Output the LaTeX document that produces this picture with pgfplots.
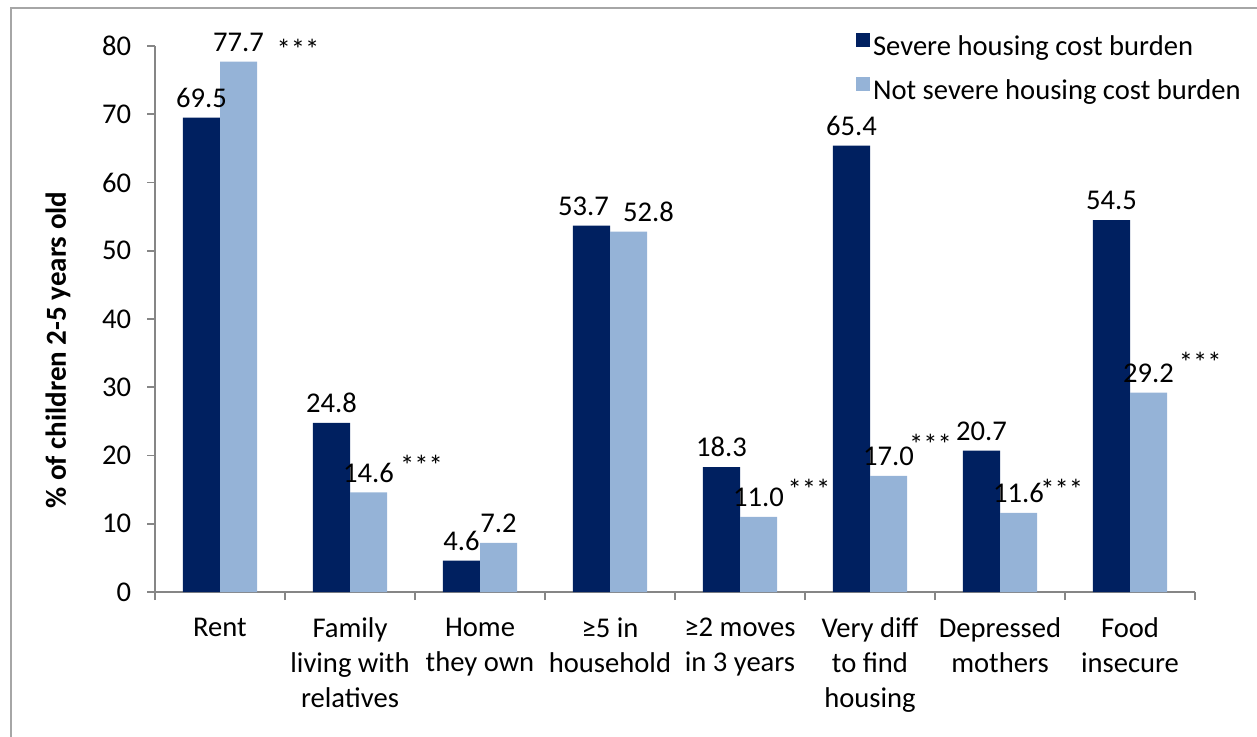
\documentclass[border=0pt]{standalone}
\usepackage{fontspec}
\setmainfont{Carlito}
\usepackage{pgfplots}
\pgfplotsset{compat=1.18}
\definecolor{darkb}{HTML}{002060}
\definecolor{lightb}{HTML}{95B3D7}
\definecolor{axgray}{HTML}{868686}
\newcommand{\cf}{\fontsize{14.3}{17.5}\selectfont}
\begin{document}
\cf
\begin{tikzpicture}
\path[use as bounding box] (0,0) rectangle (628.5pt,368pt);
\draw[color=gray!70, line width=1pt] (5.5pt,-2pt) -- (5.5pt,364pt) -- (632pt,364pt);
\begin{axis}[
  at={(77.5pt,72pt)}, anchor=south west,
  scale only axis, width=520pt, height=273pt,
  xmin=-0.5, xmax=7.5, ymin=0, ymax=80,
  ybar=0pt, bar width=0.285,
  clip=false,
  axis x line*=bottom, axis y line*=left,
  axis line style={axgray, line width=0.8pt},
  tick align=outside,
  major tick length=4pt, minor tick length=4pt,
  ytick={0,10,...,80},
  ytick style={axgray, line width=0.8pt},
  xtick={0,...,7},
  major x tick style={draw=none},
  minor xtick={-0.5,0.5,...,7.5},
  minor x tick style={axgray, line width=0.8pt},
  xticklabels={Rent,{Family\\living with\\relatives},{Home\\they own},{≥5 in\\household},{≥2 moves\\in 3 years},{Very diff\\to find\\housing},{Depressed\\mothers},{Food\\insecure}},
  xticklabel style={align=center, font=\cf, yshift=-4pt},
  yticklabel style={font=\cf, xshift=-3pt},
  /pgf/number format/assume math mode=true,
  visualization depends on={value \coordindex \as \myidx},
  nodes near coords={\pgfmathprintnumber[fixed,fixed zerofill,precision=1]{\pgfplotspointmeta}},
  nodes near coords style={font=\cf, text=black},
  legend style={draw=none, fill=none, at={(axis cs:4.89,76.5)}, anchor=west,
    font=\cf, row sep=7pt, inner sep=0pt,
    nodes={inner sep=1.5pt}},
  legend cell align=left,
]
\addplot[fill=darkb, draw=none, legend image code/.code={\fill[darkb] (0pt,0.5pt) rectangle (7pt,7.5pt);},
  nodes near coords style={xshift={(\myidx==3)*(-4pt)}}] coordinates {(0,69.5)(1,24.8)(2,4.6)(3,53.7)(4,18.3)(5,65.4)(6,20.7)(7,54.5)};
\addlegendentry{Severe housing cost burden}
\addplot[fill=lightb, draw=none, legend image code/.code={\fill[lightb] (0pt,0.5pt) rectangle (7pt,7.5pt);},
  nodes near coords style={xshift={(\myidx==3)*(10pt)}}] coordinates {(0,77.7)(1,14.6)(2,7.2)(3,52.8)(4,11.0)(5,17.0)(6,11.6)(7,29.2)};
\addlegendentry{Not severe housing cost burden}
\begin{scope}[every node/.style={font=\cf, inner sep=0pt}]
\node at (axis cs:0.600,79.5) {***};
\node at (axis cs:1.550,18.5) {***};
\node at (axis cs:4.530,15.0) {***};
\node at (axis cs:5.465,21.6) {***};
\node at (axis cs:6.475,15.1) {***};
\node at (axis cs:7.540,33.6) {***};
\end{scope}
\end{axis}
\node[rotate=90, font=\fontsize{14.5}{16}\selectfont\bfseries] at (29pt,193pt) {\% of children 2-5 years old};
\end{tikzpicture}
\end{document}
